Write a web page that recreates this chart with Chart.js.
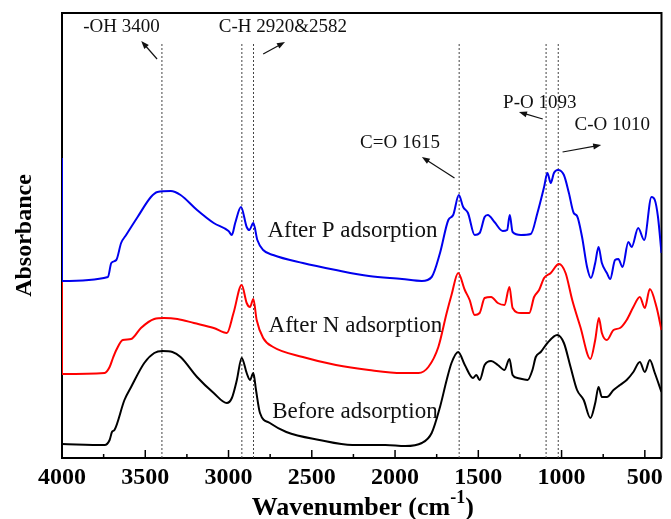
<!DOCTYPE html>
<html>
<head>
<meta charset="utf-8">
<script src="https://cdn.jsdelivr.net/npm/chart.js@4.4.1/dist/chart.umd.min.js"></script>
<style>
  html, body { margin: 0; padding: 0; background: #fff; }
  canvas { display: block; }
</style>
</head>
<body>
<canvas id="chart" width="671" height="519"></canvas>
<script>
// Before adsorption (black)
const beforeWave = [4000, 3744, 3714, 3700, 3685, 3625, 3585, 3506, 3446, 3397, 3337, 3288, 3189, 3089, 3010, 2980, 2950, 2921, 2891, 2871, 2851, 2835, 2811, 2752, 2653, 2454, 2256, 2058, 1939, 1839, 1780, 1730, 1690, 1661, 1621, 1581, 1532, 1512, 1492, 1462, 1423, 1383, 1343, 1313, 1294, 1264, 1204, 1175, 1155, 1125, 1085, 1026, 986, 946, 907, 867, 827, 798, 778, 758, 728, 688, 649, 609, 569, 530, 500, 470, 440, 400];
const beforeAbs = [14, 13, 18, 26, 28, 58, 71, 95, 105, 107, 106, 101, 81, 65, 55, 60, 78, 100, 85, 78, 85, 68, 45, 35, 26, 18, 13, 13, 12, 15, 25, 51, 78, 95, 106, 93, 80, 83, 78, 93, 97, 93, 88, 99, 83, 80, 78, 88, 101, 106, 115, 123, 115, 91, 68, 58, 40, 55, 71, 61, 61, 68, 73, 78, 86, 96, 86, 98, 85, 66];

// After N adsorption (red)
const nWave = [4000, 4000, 3744, 3714, 3694, 3674, 3635, 3585, 3526, 3446, 3387, 3307, 3208, 3089, 3010, 2970, 2921, 2891, 2871, 2851, 2831, 2792, 2732, 2554, 2355, 2157, 1958, 1859, 1800, 1740, 1690, 1661, 1621, 1581, 1552, 1522, 1492, 1462, 1423, 1383, 1343, 1313, 1294, 1244, 1194, 1165, 1135, 1105, 1065, 1016, 976, 936, 887, 827, 798, 776, 758, 728, 688, 649, 609, 569, 530, 500, 470, 430, 400];
const nAbs = [177, 84, 85, 91, 100, 108, 118, 119, 130, 139, 140, 139, 135, 130, 125, 145, 173, 155, 151, 159, 138, 120, 111, 101, 93, 88, 85, 85, 91, 111, 145, 163, 185, 168, 158, 143, 145, 160, 161, 155, 153, 171, 150, 145, 145, 161, 168, 180, 185, 194, 185, 158, 131, 99, 118, 140, 125, 118, 128, 130, 138, 151, 161, 150, 169, 151, 128];

// After P adsorption (blue)
const pWave = [4000, 4000, 3724, 3704, 3674, 3645, 3615, 3546, 3466, 3427, 3347, 3288, 3189, 3089, 3000, 2980, 2960, 2925, 2891, 2875, 2851, 2827, 2792, 2732, 2554, 2355, 2157, 1958, 1839, 1780, 1730, 1680, 1651, 1617, 1591, 1562, 1522, 1492, 1462, 1443, 1403, 1353, 1327, 1311, 1294, 1244, 1185, 1145, 1105, 1085, 1065, 1046, 1022, 986, 956, 927, 907, 877, 847, 824, 798, 778, 758, 728, 708, 679, 659, 634, 599, 579, 540, 504, 460, 440, 421, 400];
const pAbs = [300, 177, 181, 195, 198, 215, 223, 241, 261, 266, 267, 263, 248, 235, 227, 223, 235, 251, 231, 228, 235, 218, 208, 203, 195, 188, 182, 179, 177, 181, 205, 238, 243, 263, 251, 245, 223, 225, 241, 243, 236, 227, 228, 243, 226, 223, 224, 245, 271, 285, 275, 285, 288, 283, 265, 245, 242, 221, 191, 180, 195, 211, 195, 185, 179, 198, 199, 191, 216, 211, 230, 218, 261, 258, 241, 205];

// axis ticks and band markers
const tickWaves = [4000, 3500, 3000, 2500, 2000, 1500, 1000, 500];
const markerWaves = [3400, 2920, 2850, 1615, 1093, 1020];
const markerTop = 415;

const curveLabels = [
  { text: "After P adsorption", x: 2256, y: 227 },
  { text: "After N adsorption", x: 2238, y: 132 },
  { text: "Before adsorption", x: 2241, y: 46 },
];

const bandLabels = [
  { text: "-OH 3400", x: 3643, y: 431, arrow: [3429, 399, 3524, 417] },
  { text: "C-H 2920&2582", x: 2673, y: 431, arrow: [2792, 404, 2661, 416] },
  { text: "C=O 1615", x: 1970, y: 315, arrow: [1643, 280, 1839, 301] },
  { text: "P-O 1093", x: 1131, y: 355, arrow: [1113, 339, 1256, 346] },
  { text: "C-O 1010", x: 696, y: 333, arrow: [994, 306, 762, 313] },
];

const SERIF = "'Liberation Serif', 'Times New Roman', serif";

const toPoints = (xs, ys) => xs.map((x, i) => ({ x, y: ys[i] }));

const curve = (label, xs, ys, color) => ({
  label,
  data: toPoints(xs, ys),
  borderColor: color,
  borderWidth: 2,
  pointRadius: 0,
  fill: false,
  cubicInterpolationMode: "monotone",
});

const markerSets = markerWaves.map((w) => ({
  label: "marker " + w,
  data: [{ x: w, y: 0 }, { x: w, y: markerTop }],
  borderColor: "#444",
  borderWidth: 1,
  borderDash: [2, 2],
  pointRadius: 0,
  fill: false,
}));

// top + right frame lines
const framePlugin = {
  id: "frame",
  beforeDatasetsDraw(chart) {
    const { ctx, chartArea: a } = chart;
    ctx.save();
    ctx.strokeStyle = "#000";
    ctx.lineWidth = 2;
    ctx.beginPath();
    ctx.moveTo(a.left, a.top);
    ctx.lineTo(a.right, a.top);
    ctx.lineTo(a.right, a.bottom);
    ctx.stroke();
    ctx.restore();
  },
};

// inward ticks on the wavenumber axis
const tickPlugin = {
  id: "inTicks",
  afterDatasetsDraw(chart) {
    const { ctx, scales } = chart;
    const x = scales.x;
    const base = chart.chartArea.bottom;
    ctx.save();
    ctx.strokeStyle = "#000";
    ctx.lineWidth = 1.5;
    tickWaves.forEach((w) => {
      const px = x.getPixelForValue(w);
      ctx.beginPath();
      ctx.moveTo(px, base);
      ctx.lineTo(px, base - 8);
      ctx.stroke();
      const m = w - 250;
      if (m > x.min) {
        const mx = x.getPixelForValue(m);
        ctx.beginPath();
        ctx.moveTo(mx, base);
        ctx.lineTo(mx, base - 4);
        ctx.stroke();
      }
    });
    ctx.restore();
  },
};

// labels, arrows and axis title with superscript
const textPlugin = {
  id: "texts",
  afterDatasetsDraw(chart) {
    const { ctx, scales } = chart;
    const px = (w) => scales.x.getPixelForValue(w);
    const py = (v) => scales.y.getPixelForValue(v);
    ctx.save();
    ctx.fillStyle = "#111";
    ctx.textAlign = "center";
    ctx.textBaseline = "middle";

    ctx.font = "23px " + SERIF;
    curveLabels.forEach((l) => ctx.fillText(l.text, px(l.x), py(l.y)));

    ctx.font = "19px " + SERIF;
    bandLabels.forEach((l) => {
      ctx.fillText(l.text, px(l.x), py(l.y));
      const [x1, y1, x2, y2] = l.arrow;
      const ax = px(x1), ay = py(y1), bx = px(x2), by = py(y2);
      const ang = Math.atan2(by - ay, bx - ax);
      ctx.strokeStyle = "#111";
      ctx.lineWidth = 1.2;
      ctx.beginPath();
      ctx.moveTo(ax, ay);
      ctx.lineTo(bx - 5 * Math.cos(ang), by - 5 * Math.sin(ang));
      ctx.stroke();
      ctx.beginPath();
      ctx.moveTo(bx, by);
      ctx.lineTo(bx - 8 * Math.cos(ang) + 3 * Math.sin(ang), by - 8 * Math.sin(ang) - 3 * Math.cos(ang));
      ctx.lineTo(bx - 8 * Math.cos(ang) - 3 * Math.sin(ang), by - 8 * Math.sin(ang) + 3 * Math.cos(ang));
      ctx.closePath();
      ctx.fill();
    });

    // x axis title: Wavenumber (cm-1)
    const a = chart.chartArea;
    const main = "Wavenumber (cm";
    const sup = "-1";
    const close = ")";
    const mainFont = "bold 26px " + SERIF;
    const supFont = "bold 18px " + SERIF;
    ctx.font = mainFont;
    const w1 = ctx.measureText(main).width;
    const w3 = ctx.measureText(close).width;
    ctx.font = supFont;
    const w2 = ctx.measureText(sup).width;
    let x0 = (a.left + a.right) / 2 + 1 - (w1 + w2 + w3) / 2;
    const base = chart.height - 4;
    ctx.fillStyle = "#000";
    ctx.textAlign = "left";
    ctx.textBaseline = "alphabetic";
    ctx.font = mainFont;
    ctx.fillText(main, x0, base);
    ctx.font = supFont;
    ctx.fillText(sup, x0 + w1, base - 12);
    ctx.font = mainFont;
    ctx.fillText(close, x0 + w1 + w2, base);
    ctx.restore();
  },
};

new Chart(document.getElementById("chart"), {
  type: "line",
  data: {
    datasets: [
      curve("After P adsorption", pWave, pAbs, "#0000ee"),
      curve("After N adsorption", nWave, nAbs, "#ff0000"),
      curve("Before adsorption", beforeWave, beforeAbs, "#000000"),
      ...markerSets,
    ],
  },
  options: {
    responsive: false,
    animation: false,
    layout: { padding: { left: 0, right: 6, top: 13, bottom: 0 } },
    plugins: {
      legend: { display: false },
      tooltip: { enabled: false },
    },
    scales: {
      x: {
        type: "linear",
        min: 400,
        max: 4000,
        reverse: true,
        afterBuildTicks: (s) => {
          s.ticks = tickWaves.map((v) => ({ value: v }));
        },
        afterFit: (s) => {
          s.height = 61;
        },
        grid: { display: false, drawTicks: false },
        border: { display: true, color: "#000", width: 2 },
        ticks: {
          color: "#000",
          padding: 8,
          autoSkip: false,
          maxRotation: 0,
          callback: (v) => String(v),
          font: { family: SERIF, size: 24, weight: "bold", lineHeight: 1 },
        },
      },
      y: {
        min: 0,
        max: 445,
        afterFit: (s) => {
          s.width = 62;
        },
        grid: { display: false, drawTicks: false },
        border: { display: true, color: "#000", width: 2 },
        ticks: { display: false },
        title: {
          display: true,
          text: "Absorbance",
          color: "#000",
          padding: { top: 10, bottom: 0 },
          font: { family: SERIF, size: 24, weight: "bold", lineHeight: 1.2 },
        },
      },
    },
  },
  plugins: [framePlugin, tickPlugin, textPlugin],
});
</script>
</body>
</html>
